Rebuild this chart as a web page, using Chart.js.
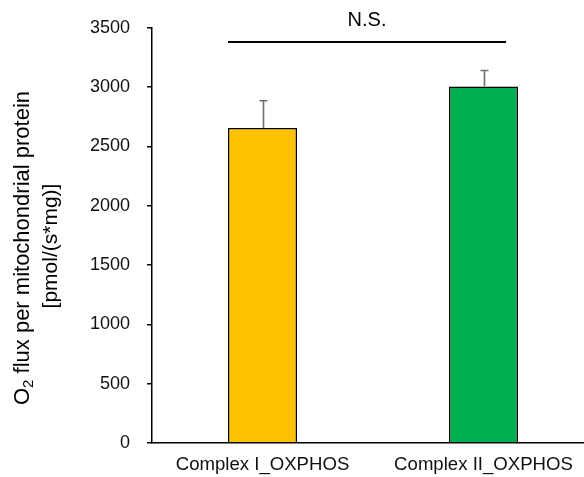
<!DOCTYPE html>
<html>
<head>
<meta charset="utf-8">
<script src="https://cdn.jsdelivr.net/npm/chart.js@4"></script>
<style>
  html, body { margin: 0; padding: 0; background: #fff; overflow: hidden; }
  #wrap { position: relative; width: 594px; height: 477px; }
</style>
</head>
<body>
<div id="wrap"><canvas id="c"></canvas></div>
<script>
// ---- data ----
const categories = ['Complex I_OXPHOS', 'Complex II_OXPHOS'];
const meanFlux = [2655, 3005];
const errorUp = [230, 135];
const barColors = ['#FFC000', '#00B050'];
const yMin = 0, yMax = 3500, yStep = 500;
const sigLabel = 'N.S.';
const sigLevel = 3380;
const sigSpan = [-0.156, 1.102];
const yTitleLine1 = ['O', '2', ' flux per mitochondrial protein'];
const yTitleLine2 = '[pmol/(s*mg)]';

const FONT = '"Liberation Sans", Arial, sans-serif';

const annotPlugin = {
  id: 'annot',
  afterDatasetsDraw(chart) {
    const ctx = chart.ctx;
    const xs = chart.scales.x, ys = chart.scales.y;
    const meta = chart.getDatasetMeta(0);
    ctx.save();
    // error bars
    ctx.strokeStyle = '#6f6f6f';
    ctx.lineWidth = 1.6;
    meta.data.forEach((bar, i) => {
      const x = Math.round(bar.x) + 0.5;
      const yTop = ys.getPixelForValue(meanFlux[i]);
      const yErr = ys.getPixelForValue(meanFlux[i] + errorUp[i]);
      ctx.beginPath();
      ctx.moveTo(x, yTop);
      ctx.lineTo(x, yErr);
      ctx.moveTo(x - 4, yErr);
      ctx.lineTo(x + 4, yErr);
      ctx.stroke();
    });
    // significance line
    const x1 = xs.getPixelForValue(sigSpan[0]);
    const x2 = xs.getPixelForValue(sigSpan[1]);
    const yl = Math.round(ys.getPixelForValue(sigLevel));
    ctx.strokeStyle = '#000';
    ctx.lineWidth = 2;
    ctx.beginPath();
    ctx.moveTo(x1, yl);
    ctx.lineTo(x2, yl);
    ctx.stroke();
    ctx.fillStyle = '#000';
    ctx.font = '20px ' + FONT;
    ctx.textAlign = 'center';
    ctx.textBaseline = 'middle';
    ctx.fillText(sigLabel, (x1 + x2) / 2, 20);
    // y axis title (two lines, rotated)
    const cy = 248;
    ctx.save();
    ctx.translate(23, cy);
    ctx.rotate(-Math.PI / 2);
    ctx.textAlign = 'left';
    ctx.textBaseline = 'middle';
    const big = '22px ' + FONT, small = '15px ' + FONT;
    ctx.font = big; const w0 = ctx.measureText(yTitleLine1[0]).width;
    ctx.font = small; const w1 = ctx.measureText(yTitleLine1[1]).width;
    ctx.font = big; const w2 = ctx.measureText(yTitleLine1[2]).width;
    let sx = -(w0 + w1 + w2) / 2;
    ctx.font = big; ctx.fillText(yTitleLine1[0], sx, 0);
    ctx.font = small; ctx.fillText(yTitleLine1[1], sx + w0, 6);
    ctx.font = big; ctx.fillText(yTitleLine1[2], sx + w0 + w1, 0);
    ctx.restore();
    ctx.save();
    ctx.translate(51, 246);
    ctx.rotate(-Math.PI / 2);
    ctx.textAlign = 'center';
    ctx.textBaseline = 'middle';
    ctx.font = '21px ' + FONT;
    ctx.fillText(yTitleLine2, 0, 0);
    ctx.restore();
    ctx.restore();
  }
};

new Chart(document.getElementById('c'), {
  type: 'bar',
  data: {
    labels: categories,
    datasets: [{
      data: meanFlux,
      backgroundColor: barColors,
      borderColor: '#000',
      borderWidth: 1.5,
      barPercentage: 0.312,
      categoryPercentage: 1
    }]
  },
  options: {
    responsive: true,
    maintainAspectRatio: false,
    animation: false,
    devicePixelRatio: 1,
    layout: { padding: { top: 26, right: 0, bottom: 0, left: 0 } },
    plugins: { legend: { display: false }, tooltip: { enabled: false } },
    scales: {
      x: {
        grid: { display: false },
        border: { display: true, color: '#000', width: 1.5 },
        ticks: { color: '#111', font: { family: FONT, size: 18.6 }, padding: 3, maxRotation: 0 },
        afterFit(s) { s.height = 34; }
      },
      y: {
        min: yMin, max: yMax,
        grid: { display: true, drawOnChartArea: false, drawTicks: true, tickLength: 5, color: '#000', lineWidth: 1.5 },
        border: { display: true, color: '#000', width: 1.5 },
        ticks: { stepSize: yStep, color: '#111', font: { family: FONT, size: 18 }, padding: 17,
                 callback: (v) => String(v) },
        afterFit(s) { s.width = 152; }
      }
    }
  },
  plugins: [annotPlugin]
});
</script>
</body>
</html>
